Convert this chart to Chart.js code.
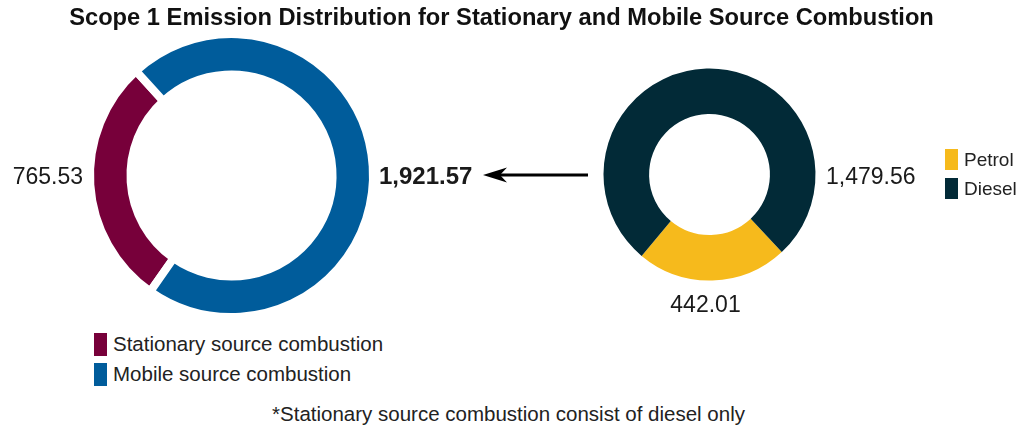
<!DOCTYPE html>
<html>
<head>
<meta charset="utf-8">
<script src="https://cdn.jsdelivr.net/npm/chart.js@4.4.1/dist/chart.umd.min.js"></script>
<style>
    body { margin: 0; background: #fff; }
    #page { position: relative; width: 1022px; height: 427px; overflow: hidden; font-family: "Liberation Sans", Arial, sans-serif; color: #222; }
    .txt { position: absolute; line-height: 1; white-space: nowrap; }
    .swatch { position: absolute; }
    canvas { position: absolute; top: 0; }
</style>
</head>
<body>
<div id="page">
    <canvas id="sourceChart" width="500" height="330" style="left:0"></canvas>
    <canvas id="fuelChart" width="522" height="330" style="left:500px"></canvas>
    <svg style="position:absolute;left:478px;top:165px" width="115" height="20">
        <line x1="21" y1="10" x2="110" y2="10" stroke="#000" stroke-width="3"/>
        <polygon points="5,10 29,2.5 22,10 29,17.5" fill="#000"/>
    </svg>
</div>
<script>
const titleText = 'Scope 1 Emission Distribution for Stationary and Mobile Source Combustion';
const noteText = '*Stationary source combustion consist of diesel only';

// combustion source split (tCO2e)
const sourceLabels = ['Stationary source combustion', 'Mobile source combustion'];
const sourceValues = [765.53, 1921.57];
const sourceColors = ['#77003a', '#005c9b'];

// mobile combustion by fuel
const fuelLabels = ['Petrol', 'Diesel'];
const fuelValues = [442.01, 1479.56];
const fuelColors = ['#f6ba1c', '#022a37'];

const page = document.getElementById('page');

function addText(text, x, y, size, opts) {
    opts = opts || {};
    var el = document.createElement('div');
    el.className = 'txt';
    el.textContent = text;
    el.style.fontSize = size + 'px';
    el.style.left = x + 'px';
    // y is the middle of the capitals
    el.style.top = (y - size * 0.4885) + 'px';
    if (opts.center) el.style.transform = 'translateX(-50%)';
    if (opts.bold) el.style.fontWeight = 'bold';
    if (opts.color) el.style.color = opts.color;
    page.appendChild(el);
}

function addLegend(labels, colors, x, y, rowGap, box, size) {
    labels.forEach(function (label, i) {
        var sw = document.createElement('div');
        sw.className = 'swatch';
        sw.style.left = x + 'px';
        sw.style.top = (y + i * rowGap - box[1] / 2) + 'px';
        sw.style.width = box[0] + 'px';
        sw.style.height = box[1] + 'px';
        sw.style.background = colors[i];
        page.appendChild(sw);
        addText(label, x + box[0] + 6, y + i * rowGap, size);
    });
}

function fmt(v) {
    return v.toLocaleString('en-US', {minimumFractionDigits: 2, maximumFractionDigits: 2});
}

// writes each slice value just outside the ring
const ringLabels = {
    id: 'ringLabels',
    afterDatasetsDraw(chart, args, opts) {
        const ctx = chart.ctx;
        const ds = chart.data.datasets[0];
        const bw = ds.borderWidth || 0;
        chart.getDatasetMeta(0).data.forEach(function (arc, i) {
            const place = opts.places[i];
            const p = arc.getProps(['x', 'y', 'outerRadius'], true);
            const r = p.outerRadius - bw / 2 + place.pad;
            const size = place.size || opts.size;
            let x = p.x, y = p.y;
            ctx.save();
            ctx.font = (place.bold ? 'bold ' : '') + size + 'px "Liberation Sans", Arial, sans-serif';
            ctx.fillStyle = opts.color;
            ctx.textBaseline = 'alphabetic';
            if (place.side === 'left') {
                ctx.textAlign = 'right';
                x -= r;
            } else if (place.side === 'right') {
                ctx.textAlign = 'left';
                x += r;
            } else {
                ctx.textAlign = 'center';
                y += r + size * 0.358;
            }
            x += place.dx || 0;
            y += place.dy || 0;
            ctx.fillText(fmt(ds.data[i]), x, y + size * 0.358);
            ctx.restore();
        });
    }
};

new Chart(document.getElementById('sourceChart'), {
    type: 'doughnut',
    data: {
        labels: sourceLabels,
        datasets: [{
            data: sourceValues,
            backgroundColor: sourceColors,
            borderColor: '#ffffff',
            borderWidth: 8,
            hoverOffset: 0
        }]
    },
    options: {
        responsive: false,
        animation: false,
        cutout: '71.4%',
        rotation: 215,
        layout: { padding: { left: 86, top: 30, right: 123, bottom: 9 } },
        plugins: {
            legend: { display: false },
            tooltip: { enabled: false },
            ringLabels: {
                size: 23,
                color: '#1a1a1a',
                places: [
                    { side: 'left', pad: 11 },
                    { side: 'right', pad: 10, bold: true, size: 24 }
                ]
            }
        }
    },
    plugins: [ringLabels]
});

new Chart(document.getElementById('fuelChart'), {
    type: 'doughnut',
    data: {
        labels: fuelLabels,
        datasets: [{
            data: fuelValues,
            backgroundColor: fuelColors,
            borderWidth: 0,
            hoverOffset: 0
        }]
    },
    options: {
        responsive: false,
        animation: false,
        cutout: '57%',
        rotation: 137,
        layout: { padding: { left: 103.5, top: 68.5, right: 206.5, bottom: 49.5 } },
        plugins: {
            legend: { display: false },
            tooltip: { enabled: false },
            ringLabels: {
                size: 23,
                color: '#1a1a1a',
                places: [
                    { side: 'below', pad: 15.5, dx: -4 },
                    { side: 'right', pad: 10.5, dy: 1.5 }
                ]
            }
        }
    },
    plugins: [ringLabels]
});

addText(titleText, 501.5, 17.5, 23.7, { center: true, bold: true, color: '#111' });
addLegend(sourceLabels, sourceColors, 94, 344.5, 29.5, [13, 23], 20.5);
addLegend(fuelLabels, fuelColors, 945, 159, 29, [13, 21], 19);
addText(noteText, 508.5, 414.5, 20.5, { center: true });
</script>
</body>
</html>
